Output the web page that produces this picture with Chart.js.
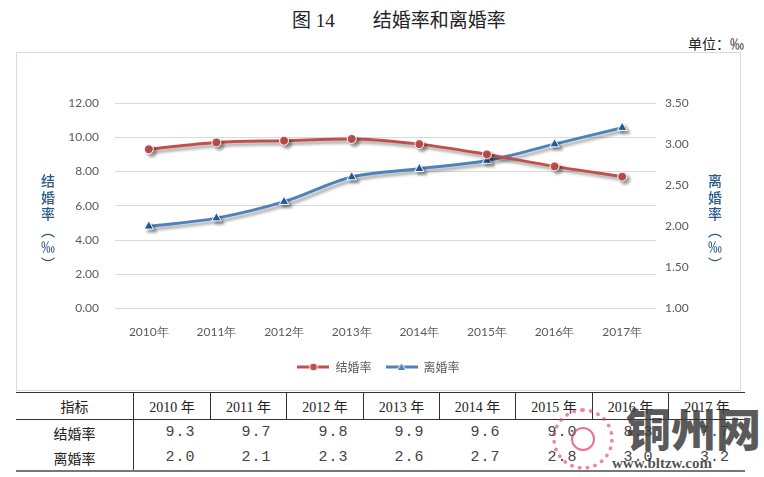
<!DOCTYPE html>
<html>
<head>
<meta charset="utf-8">
<script src="https://cdn.jsdelivr.net/npm/chart.js@4"></script>
<style>
  body { margin: 0; width: 764px; height: 477px; background: #fff; position: relative; overflow: hidden; }
  #title { position: absolute; left: 292px; top: 5px; font-size: 19px; color: #222;
    font-family: "Liberation Serif", "Noto Sans CJK SC"; white-space: pre; }
  #unit { position: absolute; left: 688px; top: 33px; font-size: 14px; color: #222;
    font-family: "Noto Sans CJK SC"; }
  #box { position: absolute; left: 16px; top: 52px; width: 723px; height: 337px;
    border: 1px solid #d9d9d9; border-left-color: #cfe0ea; }
  #table { position: absolute; left: 16px; top: 392px; border-collapse: collapse; color: #222;
    font-family: "Liberation Serif", "Noto Sans CJK SC"; font-size: 14px; }
  #table td { padding: 0; height: 25px; }
  #table tr.head td { height: 26px; border-top: 1px solid #333; border-bottom: 1px solid #333; text-align: center; }
  #table tr.head td + td { border-left: 1px solid #333; }
  #table tr.last td { border-bottom: 2px solid #777; }
  #table td.lab { text-align: center; border-right: 1px solid #333; font-family: "Noto Sans CJK SC"; }
  #table td.num { text-align: right; padding-right: 15px; font-family: "Liberation Mono"; font-size: 15px; letter-spacing: 1px; color: #444; }
  #wm { position: absolute; left: 626px; top: 402px; font-family: "Noto Sans CJK SC"; font-weight: 900;
    font-size: 45px; color: rgba(60,60,60,0.85); letter-spacing: 0px; line-height: 52px; }
  #wm2 { position: absolute; left: 612px; top: 455px; font-family: "Liberation Serif"; font-weight: bold;
    font-size: 15px; color: rgba(60,60,60,0.9); }
  #logo { position: absolute; left: 552px; top: 408px; width: 62px; height: 62px; border-radius: 50%;
    border: 4px dotted rgba(220,60,90,0.6); box-sizing: border-box; }
  #logo::after { content: ""; position: absolute; left: 15px; top: 15px; width: 20px; height: 20px;
    border-radius: 50%; border: 2px solid rgba(220,60,90,0.7); }
</style>
</head>
<body>
<div id="title">图 14　　结婚率和离婚率</div>
<div id="unit">单位：‰</div>
<div id="box"><canvas id="canvas" width="723" height="337"></canvas></div>
<table id="table">
  <tr class="head" id="headRow"></tr>
  <tr id="row1"></tr>
  <tr class="last" id="row2"></tr>
</table>
<div id="logo"></div>
<div id="wm">铜州网</div>
<div id="wm2">www.bltzw.com</div>
<script>
const years = ['2010', '2011', '2012', '2013', '2014', '2015', '2016', '2017']
const marriageRate = [9.3, 9.7, 9.8, 9.9, 9.6, 9.0, 8.3, 7.7]
const divorceRate = [2.0, 2.1, 2.3, 2.6, 2.7, 2.8, 3.0, 3.2]
const seriesNames = ['结婚率', '离婚率']
const leftTicks = [0, 2, 4, 6, 8, 10, 12]
const rightTicks = [1, 1.5, 2, 2.5, 3, 3.5]

const RED = '#c0504d'
const BLUE = '#4f81bd'
const GREY = '#595959'

// table below the chart
const colW = [117, 76, 75, 76, 75, 75, 76, 75, 76]
const head = document.getElementById('headRow')
const r1 = document.getElementById('row1')
const r2 = document.getElementById('row2')
function cell(row, text, cls, w) {
  const td = document.createElement('td')
  td.textContent = text
  if (cls) td.className = cls
  if (w) td.style.width = w + 'px'
  row.appendChild(td)
}
cell(head, '指标', null, colW[0])
years.forEach((y, i) => cell(head, y + ' 年', null, colW[i + 1]))
cell(r1, seriesNames[0], 'lab')
marriageRate.forEach(v => cell(r1, v.toFixed(1), 'num'))
cell(r2, seriesNames[1], 'lab')
divorceRate.forEach(v => cell(r2, v.toFixed(1), 'num'))

// legend icons: short line with the marker in the middle
function legendIcon(color, style) {
  const c = document.createElement('canvas')
  c.width = 32; c.height = 12
  const g = c.getContext('2d')
  g.strokeStyle = color; g.lineWidth = 3
  g.beginPath(); g.moveTo(0, 6); g.lineTo(32, 6); g.stroke()
  g.fillStyle = color; g.strokeStyle = '#fff'; g.lineWidth = 1
  g.beginPath()
  if (style === 'circle') g.arc(16, 6, 4, 0, Math.PI * 2)
  else { g.moveTo(16, 1.5); g.lineTo(20.5, 9.5); g.lineTo(11.5, 9.5); g.closePath() }
  g.fill(); g.stroke()
  return c
}

const shadowPlugin = {
  id: 'shadow',
  beforeDatasetDraw(chart) {
    const ctx = chart.ctx
    ctx.save()
    ctx.shadowColor = 'rgba(0,0,0,0.35)'
    ctx.shadowBlur = 3
    ctx.shadowOffsetX = 3
    ctx.shadowOffsetY = 3
  },
  afterDatasetDraw(chart) {
    chart.ctx.restore()
  }
}

const axisTitles = {
  id: 'axisTitles',
  afterDraw(chart) {
    const ctx = chart.ctx
    const chars = ['婚', '率', '︵', '‰', '︶']
    ctx.save()
    ctx.fillStyle = '#2a5a8a'
    ctx.font = '500 14px "Noto Sans CJK SC"'
    ctx.textAlign = 'center'
    ctx.textBaseline = 'middle'
    const draw = (first, x) => {
      [first].concat(chars).forEach((ch, i) => ctx.fillText(ch, x, 128 + i * 16.5))
    }
    draw('结', 31)
    draw('离', 698)
    ctx.restore()
  }
}

new Chart(document.getElementById('canvas'), {
  type: 'line',
  data: {
    labels: years.map(y => y + '年'),
    datasets: [
      {
        label: seriesNames[0], data: marriageRate, yAxisID: 'y',
        borderColor: RED, backgroundColor: RED, borderWidth: 3,
        pointStyle: 'circle', pointRadius: 4.5, pointBorderColor: '#fff', pointBorderWidth: 1,
        cubicInterpolationMode: 'monotone', tension: 0.4
      },
      {
        label: seriesNames[1], data: divorceRate, yAxisID: 'y1',
        borderColor: BLUE, backgroundColor: '#1f5fa8', borderWidth: 3,
        pointStyle: 'triangle', pointRadius: 5.5, pointBorderColor: '#fff', pointBorderWidth: 1,
        cubicInterpolationMode: 'monotone', tension: 0.4
      }
    ]
  },
  options: {
    responsive: false,
    animation: false,
    devicePixelRatio: 1,
    layout: { padding: { top: 50, bottom: 7 } },
    plugins: {
      legend: {
        position: 'bottom',
        labels: {
          color: GREY,
          font: { family: '"Noto Sans CJK SC"', size: 12 },
          usePointStyle: true,
          pointStyleWidth: 32,
          boxHeight: 12,
          padding: 14,
          generateLabels(chart) {
            return chart.data.datasets.map((ds, i) => ({
              text: ds.label,
              pointStyle: legendIcon(ds.borderColor, ds.pointStyle),
              fontColor: GREY,
              datasetIndex: i,
              lineWidth: 0,
              strokeStyle: 'transparent'
            }))
          }
        }
      },
      tooltip: { enabled: false }
    },
    scales: {
      x: {
        offset: true,
        grid: { display: false },
        border: { display: false },
        ticks: { color: GREY, font: { family: 'Lato', size: 12 }, padding: 8 }
      },
      y: {
        position: 'left',
        min: 0, max: 12,
        afterBuildTicks(s) { s.ticks = leftTicks.map(v => ({ value: v })) },
        afterFit(s) { s.width = 98 },
        grid: { color: '#d9d9d9', drawTicks: false },
        border: { display: false },
        ticks: { color: GREY, font: { family: 'Lato', size: 12 }, padding: 16,
          callback: v => v.toFixed(2) }
      },
      y1: {
        position: 'right',
        min: 1, max: 3.5,
        afterBuildTicks(s) { s.ticks = rightTicks.map(v => ({ value: v })) },
        afterFit(s) { s.width = 84 },
        grid: { display: false, drawTicks: false },
        border: { display: false },
        ticks: { color: GREY, font: { family: 'Lato', size: 12 }, padding: 9,
          callback: v => v.toFixed(2) }
      }
    }
  },
  plugins: [shadowPlugin, axisTitles]
})
</script>
</body>
</html>
